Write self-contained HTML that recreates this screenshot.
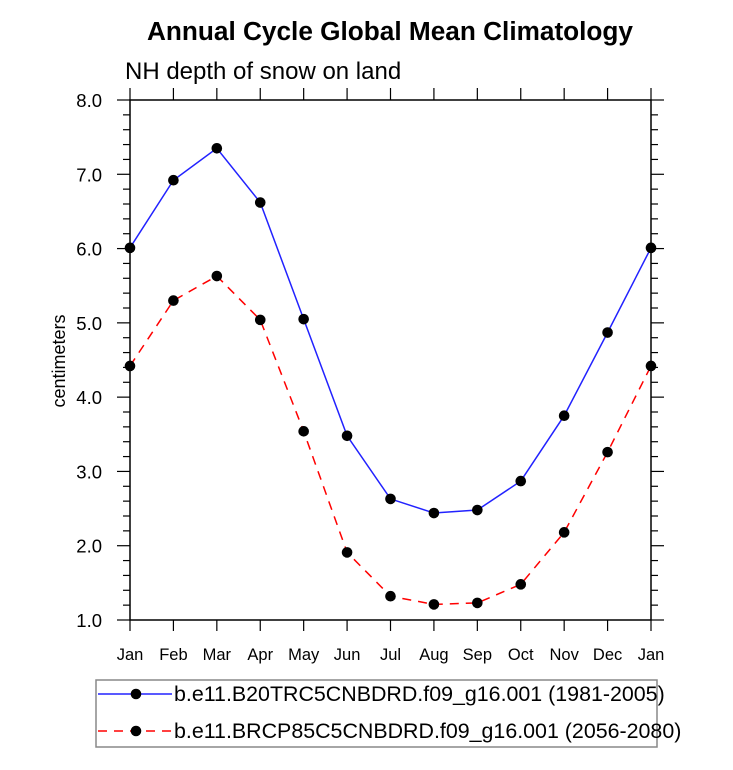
<!DOCTYPE html>
<html><head><meta charset="utf-8"><style>
body{margin:0;background:#fff;}
svg{display:block;font-family:"Liberation Sans",sans-serif;}
</style></head><body>
<svg id="c" width="733" height="770">
<text x="390" y="40" text-anchor="middle" font-size="26.2" font-weight="bold">Annual Cycle Global Mean Climatology</text>
<text x="125" y="79" font-size="24">NH depth of snow on land</text>
<text transform="translate(65,361) rotate(-90)" text-anchor="middle" font-size="18">centimeters</text>
<g id="axes"></g>
<g id="series"></g>
<rect x="96" y="680" width="561" height="67" fill="none" stroke="#888" stroke-width="1.5"/>
<line x1="98" y1="694" x2="172" y2="694" stroke="#2222ff" stroke-width="1.5"/>
<circle cx="136" cy="694" r="5.3" fill="#000"/>
<text x="174" y="701" font-size="21.4">b.e11.B20TRC5CNBDRD.f09_g16.001 (1981-2005)</text>
<line x1="98" y1="731" x2="172" y2="731" stroke="#ff0000" stroke-width="1.5" stroke-dasharray="9,7"/>
<circle cx="136" cy="731" r="5.3" fill="#000"/>
<text x="174" y="738" font-size="21.4">b.e11.BRCP85C5CNBDRD.f09_g16.001 (2056-2080)</text>
</svg>
<script>
const months = ["Jan","Feb","Mar","Apr","May","Jun","Jul","Aug","Sep","Oct","Nov","Dec","Jan"];
const histValues = [6.01,6.92,7.35,6.62,5.05,3.48,2.63,2.44,2.48,2.87,3.75,4.87,6.01];
const futureValues = [4.42,5.30,5.63,5.04,3.54,1.91,1.32,1.21,1.23,1.48,2.18,3.26,4.42];
const yTicks = ["1.0","2.0","3.0","4.0","5.0","6.0","7.0","8.0"];
const NS="http://www.w3.org/2000/svg";
const X0=130,X1=651,Y0=620,Y1=100,VMIN=1,VMAX=8;
function xs(i){return X0+(X1-X0)*i/(months.length-1);}
function ys(v){return Y0-(v-VMIN)/(VMAX-VMIN)*(Y0-Y1);}
function mk(tag,attrs,parent){const e=document.createElementNS(NS,tag);for(const k in attrs)e.setAttribute(k,attrs[k]);parent.appendChild(e);return e;}
const ax=document.getElementById('axes');
const frame=mk('rect',{x:X0,y:Y1,width:X1-X0,height:Y0-Y1,fill:'none',stroke:'#000','stroke-width':1.5},ax);


for(let v=VMIN;v<=VMAX+1e-9;v+=0.2){
  const y=ys(v);const major=Math.abs(v-Math.round(v))<1e-6;const L=major?13:7;
  const t1=mk('line',{x1:X0-L,x2:X0,y1:y,y2:y,stroke:'#000','stroke-width':1.2},ax);
  
  
  const t2=mk('line',{x1:X1,x2:X1+L,y1:y,y2:y,stroke:'#000','stroke-width':1.2},ax);
  
  
}
yTicks.forEach(s=>{const t=mk('text',{x:X0-28,y:ys(parseFloat(s))+7,'text-anchor':'end','font-size':18.5},ax);t.textContent=s;
  
  });
months.forEach((m,i)=>{const x=xs(i);
  const a=mk('line',{x1:x,x2:x,y1:Y0,y2:Y0+11,stroke:'#000','stroke-width':1.2},ax);
  
  
  const b=mk('line',{x1:x,x2:x,y1:Y1-12,y2:Y1,stroke:'#000','stroke-width':1.2},ax);
  
  
  const t=mk('text',{x:x,y:Y0+40,'text-anchor':'middle','font-size':16.5},ax);t.textContent=m;
  
  });
const sg=document.getElementById('series');
function draw(vals,color,dash,name){
  const pts=vals.map((v,i)=>xs(i)+','+ys(v)).join(' ');
  const pl=mk('polyline',{points:pts,fill:'none',stroke:color,'stroke-width':1.5,'stroke-dasharray':dash},sg);
  
  
  vals.forEach((v,i)=>{const c=mk('circle',{cx:xs(i),cy:ys(v),r:5.3,fill:'#000'},sg);
    
    });
}
draw(histValues,'#2222ff','none','historical');
draw(futureValues,'#ff0000','9,7','future');
</script>
</body></html>
